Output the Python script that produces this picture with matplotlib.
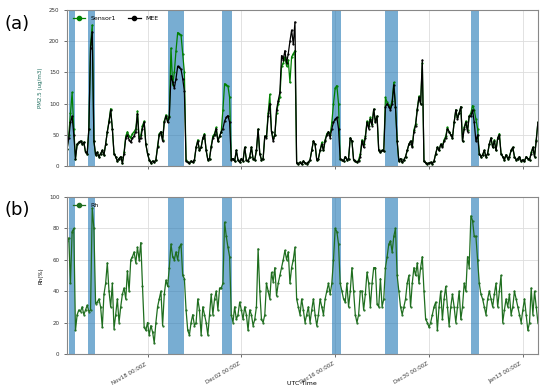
import numpy as np
import pandas as pd
import matplotlib
matplotlib.use('Agg')
import matplotlib.pyplot as plt
import matplotlib.dates as mdates

# 6-hourly values, one row per day
mee = [
    27, 45, 70, 80,  50, 12, 35, 38,  40, 36, 38, 22,  20, 60, 190, 215,
    40, 18, 22, 15,  20, 25, 18, 35,  55, 70, 90, 60,  20, 15, 8, 12,
    15, 5, 20, 45,  50, 42, 38, 45,  48, 55, 84, 40,  45, 60, 70, 35,
    20, 10, 5, 8,  6, 10, 30, 50,  55, 40, 70, 80,  70, 78, 145, 135,
    125, 140, 160, 158,  155, 140, 120, 8,  6, 5, 8, 6,  10, 30, 40, 25,
    30, 45, 50, 25,  10, 12, 30, 45,  50, 60, 40, 48,  55, 60, 72, 78,
    81, 70, 10, 12,  8, 25, 10, 6,  12, 8, 30, 10,  8, 15, 30, 12,
    10, 25, 59, 20,  10, 12, 48, 45,  80, 100, 55, 40,  50, 90, 105, 118,
    177, 170, 185, 165,  180, 200, 218, 195,  231, 5, 4, 6,  3, 8, 5, 4,
    6, 10, 25, 40,  35, 10, 12, 25,  35, 25, 40, 50,  55, 45, 60, 70,
    75, 78, 60, 12,  10, 8, 15, 10,  12, 45, 40, 10,  8, 6, 8, 15,
    40, 30, 45, 70,  60, 75, 65, 91,  70, 80, 25, 22,  25, 24, 95, 100,
    95, 90, 100, 130,  95, 40, 8, 12,  6, 10, 15, 25,  35, 40, 30, 55,
    65, 90, 110, 100,  170, 8, 5, 4,  5, 6, 4, 8,  20, 30, 25, 35,
    30, 40, 45, 60,  55, 50, 45, 70,  90, 75, 85, 95,  40, 60, 70, 55,
    80, 80, 90, 70,  40, 50, 20, 15,  18, 25, 15, 20,  35, 45, 30, 40,
    25, 45, 50, 20,  15, 10, 18, 12,  15, 25, 30, 15,  10, 12, 15, 8,
    10, 8, 15, 12,  10, 20, 30, 15,  40, 70,
]
sensor1 = [
    27, 50, 85, 118,  60, 12, 35, 38,  40, 36, 38, 22,  20, 60, 195, 226,
    40, 18, 22, 15,  20, 25, 18, 35,  55, 72, 92, 60,  20, 15, 8, 12,
    15, 5, 22, 48,  55, 48, 45, 52,  55, 60, 88, 45,  50, 65, 72, 35,
    20, 10, 5, 8,  6, 10, 32, 52,  55, 42, 72, 82,  75, 80, 189, 130,
    150, 185, 214, 212,  210, 180, 150, 10,  6, 5, 8, 6,  10, 30, 42, 25,
    30, 45, 52, 25,  10, 12, 32, 48,  52, 62, 40, 48,  55, 90, 132, 130,
    128, 110, 11, 12,  8, 25, 10, 6,  12, 8, 30, 10,  8, 15, 30, 12,
    10, 25, 59, 20,  10, 12, 48, 48,  85, 115, 55, 45,  50, 85, 100, 110,
    160, 165, 175, 160,  170, 134, 175, 180,  185, 5, 4, 6,  3, 8, 5, 4,
    6, 10, 25, 40,  35, 10, 12, 25,  38, 25, 42, 52,  55, 50, 70, 100,
    125, 129, 100, 12,  10, 8, 15, 10,  12, 45, 40, 10,  8, 6, 10, 20,
    42, 35, 48, 72,  65, 78, 68, 91,  72, 80, 25, 22,  25, 24, 110, 102,
    98, 95, 105, 134,  95, 40, 8, 12,  6, 10, 15, 25,  35, 40, 32, 58,
    68, 92, 112, 100,  165, 8, 5, 4,  5, 6, 4, 8,  20, 30, 25, 35,
    32, 42, 48, 62,  55, 50, 45, 70,  90, 78, 85, 95,  40, 62, 72, 58,
    80, 85, 97, 90,  75, 60, 20, 15,  18, 25, 15, 20,  35, 45, 30, 42,
    25, 45, 52, 20,  15, 10, 18, 12,  15, 25, 30, 15,  10, 12, 15, 8,
    10, 8, 15, 12,  10, 22, 30, 15,  42, 70,
]
rh = [
    72, 74, 45, 78,  80, 15, 25, 28,  27, 30, 25, 28,  31, 27, 28, 93,
    80, 32, 33, 35,  30, 17, 38, 45,  58, 40, 30, 45,  16, 25, 35, 20,
    30, 38, 42, 35,  53, 40, 60, 62,  65, 58, 68, 60,  71, 43, 17, 15,
    20, 12, 18, 14,  7, 20, 30, 35,  40, 18, 38, 47,  43, 55, 70, 62,
    60, 65, 60, 68,  70, 50, 48, 28,  15, 12, 20, 25,  18, 20, 35, 28,
    12, 30, 25, 20,  12, 25, 38, 25,  35, 40, 28, 42,  42, 45, 84, 75,
    68, 62, 25, 20,  30, 22, 25, 33,  28, 22, 30, 25,  15, 28, 25, 18,
    22, 30, 67, 40,  22, 20, 25, 45,  40, 35, 52, 46,  55, 37, 45, 50,
    55, 60, 66, 60,  65, 45, 55, 60,  68, 35, 30, 25,  35, 28, 20, 25,
    30, 20, 28, 35,  25, 18, 25, 35,  30, 25, 35, 40,  45, 38, 45, 60,
    80, 78, 70, 45,  40, 35, 33, 45,  30, 40, 55, 40,  25, 20, 25, 40,
    40, 28, 38, 52,  45, 30, 45, 55,  55, 32, 30, 48,  30, 35, 55, 62,
    70, 72, 65, 75,  80, 50, 40, 30,  25, 30, 35, 45,  50, 30, 45, 55,
    50, 58, 45, 55,  62, 40, 22, 20,  17, 20, 25, 30,  33, 15, 30, 40,
    22, 35, 43, 30,  18, 30, 38, 30,  20, 30, 40, 22,  30, 45, 40, 62,
    55, 88, 85, 75,  75, 60, 45, 38,  35, 30, 25, 35,  40, 35, 30, 38,
    45, 30, 40, 50,  20, 28, 35, 30,  38, 25, 30, 40,  35, 30, 25, 20,
    28, 35, 25, 15,  20, 42, 25, 40,  30, 20,
]

# shaded periods (start, end)
spans = [
    ('2019-11-06 07:00', '2019-11-07 05:00'),
    ('2019-11-09 04:00', '2019-11-10 04:00'),
    ('2019-11-21 03:00', '2019-11-23 12:00'),
    ('2019-11-29 02:00', '2019-11-30 14:00'),
    ('2019-12-15 12:00', '2019-12-16 21:00'),
    ('2019-12-23 12:00', '2019-12-25 10:00'),
    ('2020-01-05 08:00', '2020-01-06 10:00'),
]
tick_dates = ['2019-11-18', '2019-12-02', '2019-12-16', '2019-12-30', '2020-01-13']

t = pd.date_range('2019-11-06 00:00', periods=len(mee), freq='6h')

fig = plt.figure(figsize=(5.5, 3.88), dpi=100)
ax1 = fig.add_axes([0.122, 0.572, 0.856, 0.402])
ax2 = fig.add_axes([0.122, 0.088, 0.856, 0.404], sharex=ax1)

ax1.plot(t, sensor1, '-o', color='green', lw=0.9, ms=0.6, label='Sensor1')
ax1.plot(t, mee, '-o', color='black', lw=0.9, ms=0.6, label='MEE')
ax2.plot(t, rh, '-o', color='#1f6e1f', lw=0.9, ms=0.6, label='Rh')

for ax in (ax1, ax2):
    for s, e in spans:
        ax.axvspan(pd.Timestamp(s), pd.Timestamp(e), color='tab:blue', alpha=0.6, lw=0)
    ax.grid(True, color='#dddddd', lw=0.6)
    ax.set_axisbelow(True)
    ax.tick_params(labelsize=4, length=2, width=0.5, colors='#333333')
    for sp in ax.spines.values():
        sp.set_color('#888888')
        sp.set_linewidth(0.8)
    ax.legend(loc='upper left', fontsize=4.5, frameon=False, ncol=2,
              markerscale=5, handlelength=2)

ax1.set_ylim(0, 250)
ax1.set_yticks([0, 50, 100, 150, 200, 250])
ax2.set_ylim(0, 100)
ax2.set_yticks([0, 20, 40, 60, 80, 100])
ax1.set_xlim(t[0], t[-1])

ax2.set_xticks(pd.to_datetime(tick_dates))
ax2.xaxis.set_major_formatter(mdates.DateFormatter('%b%d %H:%MZ'))
plt.setp(ax1.get_xticklabels(), visible=False)
plt.setp(ax2.get_xticklabels(), rotation=30, ha='right')

ax1.set_ylabel('PM2.5 (ug/m3)', fontsize=4, color='#1f6e5f')
ax2.set_ylabel('Rh(%)', fontsize=4)
fig.text(0.549, 0.008, 'UTC Time', ha='center', fontsize=4.5)

fig.text(0.008, 0.925, '(a)', fontsize=13)
fig.text(0.008, 0.445, '(b)', fontsize=13)

fig.savefig('out.png', dpi=100)
